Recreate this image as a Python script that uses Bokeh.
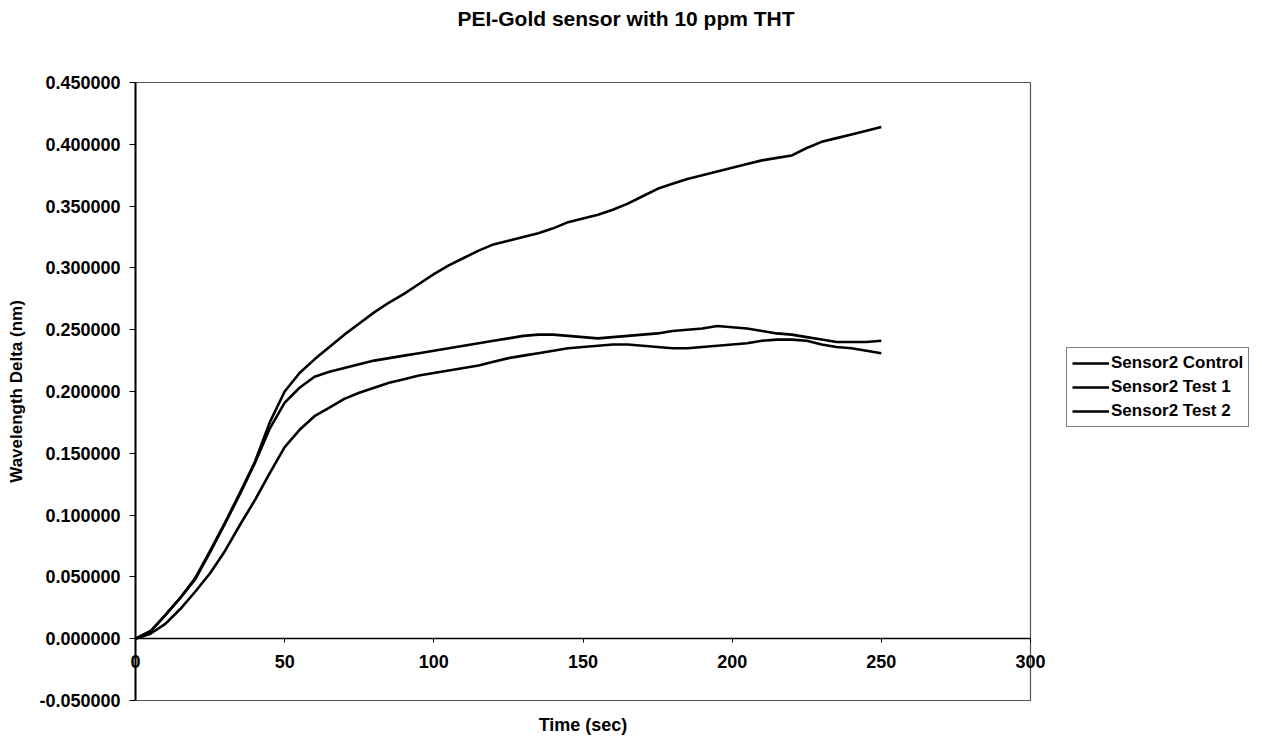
from bokeh.plotting import figure
from bokeh.models import (LinearAxis, FixedTicker, NumeralTickFormatter, Legend,
                          LegendItem, Range1d, Label)
from bokeh.embed import file_html
from bokeh.resources import INLINE

# ---------------- data ----------------
time_s = [0, 5, 10, 15, 20, 25, 30, 35, 40, 45, 50, 55, 60, 65, 70, 75, 80, 85, 90, 95,
          100, 105, 110, 115, 120, 125, 130, 135, 140, 145, 150, 155, 160, 165, 170, 175,
          180, 185, 190, 195, 200, 205, 210, 215, 220, 225, 230, 235, 240, 245, 250]

sensor2_control = [0.000, 0.006, 0.019, 0.033, 0.049, 0.071, 0.094, 0.118, 0.143, 0.175,
                   0.200, 0.215, 0.226, 0.236, 0.246, 0.255, 0.264, 0.272, 0.279, 0.287,
                   0.295, 0.302, 0.308, 0.314, 0.319, 0.322, 0.325, 0.328, 0.332, 0.337,
                   0.340, 0.343, 0.347, 0.352, 0.358, 0.364, 0.368, 0.372, 0.375, 0.378,
                   0.381, 0.384, 0.387, 0.389, 0.391, 0.397, 0.402, 0.405, 0.408, 0.411,
                   0.414]

sensor2_test1 = [0.000, 0.006, 0.019, 0.033, 0.048, 0.070, 0.093, 0.117, 0.142, 0.170,
                 0.191, 0.203, 0.212, 0.216, 0.219, 0.222, 0.225, 0.227, 0.229, 0.231,
                 0.233, 0.235, 0.237, 0.239, 0.241, 0.243, 0.245, 0.246, 0.246, 0.245,
                 0.244, 0.243, 0.244, 0.245, 0.246, 0.247, 0.249, 0.250, 0.251, 0.253,
                 0.252, 0.251, 0.249, 0.247, 0.246, 0.244, 0.242, 0.240, 0.240, 0.240,
                 0.241]

sensor2_test2 = [0.000, 0.004, 0.012, 0.024, 0.038, 0.053, 0.071, 0.092, 0.112, 0.134,
                 0.155, 0.169, 0.180, 0.187, 0.194, 0.199, 0.203, 0.207, 0.210, 0.213,
                 0.215, 0.217, 0.219, 0.221, 0.224, 0.227, 0.229, 0.231, 0.233, 0.235,
                 0.236, 0.237, 0.238, 0.238, 0.237, 0.236, 0.235, 0.235, 0.236, 0.237,
                 0.238, 0.239, 0.241, 0.242, 0.242, 0.241, 0.238, 0.236, 0.235, 0.233,
                 0.231]

series_names = ["Sensor2 Control", "Sensor2 Test 1", "Sensor2 Test 2"]
x_ticks = [0, 50, 100, 150, 200, 250, 300]
y_ticks = [-0.05, 0.0, 0.05, 0.10, 0.15, 0.20, 0.25, 0.30, 0.35, 0.40, 0.45]
x_limits = [0, 300]
y_limits = [-0.05, 0.45]

title_text = "PEI-Gold sensor with 10 ppm THT"
x_title = "Time (sec)"
y_title = "Wavelength Delta (nm)"

FONT = "Liberation Sans"

# ---------------- layout (pixels) ----------------
W, H = 1262, 736
PLOT_L, PLOT_R, PLOT_T, PLOT_B = 135, 1030, 82, 700   # plot-area box on the canvas
xs = (PLOT_R - PLOT_L) / (x_limits[1] - x_limits[0])
ys = (PLOT_B - PLOT_T) / (y_limits[1] - y_limits[0])
x_range = Range1d(x_limits[0] - PLOT_L / xs, x_limits[1] + (W - PLOT_R) / xs)
y_range = Range1d(y_limits[0] - (H - PLOT_B) / ys, y_limits[1] + PLOT_T / ys)

p = figure(width=W, height=H, output_backend="svg", toolbar_location=None,
           x_range=x_range, y_range=y_range,
           x_axis_location=None, y_axis_location=None,
           min_border=0, min_border_left=0, min_border_right=0,
           min_border_top=0, min_border_bottom=0)

p.background_fill_color = "white"
p.border_fill_color = "white"
p.outline_line_color = None
p.xgrid.visible = False
p.ygrid.visible = False

# plot-area box
p.quad(left=[x_limits[0]], right=[x_limits[1]], bottom=[y_limits[0]], top=[y_limits[1]],
       fill_color=None, line_color="#555555", line_width=1.2)

# y axis (at x = 0)
ya = LinearAxis(fixed_location=x_limits[0], bounds=(y_limits[0], y_limits[1]),
                ticker=FixedTicker(ticks=y_ticks),
                formatter=NumeralTickFormatter(format="0.000000"))
ya.major_label_text_font = FONT
ya.major_label_text_font_size = "18px"
ya.major_label_text_font_style = "bold"
ya.major_label_text_color = "black"
ya.major_tick_out = 6
ya.major_tick_in = 0
ya.minor_tick_line_color = None
ya.major_tick_line_color = "black"
ya.axis_line_color = "black"
ya.axis_line_width = 2
ya.major_label_standoff = 9
ya.axis_label = y_title
ya.axis_label_text_font = FONT
ya.axis_label_text_font_size = "17px"
ya.axis_label_text_font_style = "bold"
ya.axis_label_text_color = "black"
ya.axis_label_standoff = 10
p.add_layout(ya, "left")

# x axis crossing at y = 0
xa = LinearAxis(fixed_location=0, bounds=(x_limits[0], x_limits[1]),
                ticker=FixedTicker(ticks=x_ticks))
xa.major_label_text_font = FONT
xa.major_label_text_font_size = "18px"
xa.major_label_text_font_style = "bold"
xa.major_label_text_color = "black"
xa.major_tick_out = 4
xa.major_tick_in = 0
xa.minor_tick_line_color = None
xa.major_tick_line_color = "black"
xa.axis_line_color = "black"
xa.axis_line_width = 1.5
xa.major_label_standoff = 12
p.add_layout(xa, "below")

# x axis title under the plot-area box
xl = LinearAxis(fixed_location=y_limits[0], bounds=(x_limits[0], x_limits[1]),
                ticker=FixedTicker(ticks=[]), axis_line_color=None,
                major_tick_line_color=None, minor_tick_line_color=None,
                major_label_text_font_size="0px", axis_label=x_title,
                axis_label_text_font=FONT, axis_label_text_font_size="18px",
                axis_label_text_font_style="bold", axis_label_text_color="black",
                axis_label_standoff=14)
p.add_layout(xl, "below")

# title
p.add_layout(Label(x=(x_limits[0] + x_limits[1]) / 2 + 43 / xs, y=y_limits[1] + 64 / ys,
                   text=title_text, text_align="center", text_baseline="middle",
                   text_font=FONT, text_font_size="21px", text_font_style="bold",
                   text_color="black"))

# lines
renderers = []
for vals in (sensor2_control, sensor2_test1, sensor2_test2):
    r = p.line(time_s, vals, line_color="black", line_width=2.6)
    renderers.append(r)

legend = Legend(items=[LegendItem(label=n, renderers=[r]) for n, r in zip(series_names, renderers)],
                location=(1066, H - 427), orientation="vertical",
                label_text_font=FONT, label_text_font_size="17px",
                label_text_font_style="bold", label_text_color="black",
                label_standoff=2, glyph_width=37, glyph_height=20, label_height=20,
                spacing=4, padding=5, margin=0,
                border_line_color="black", border_line_width=1.5,
                background_fill_color="white", background_fill_alpha=1.0)
p.add_layout(legend, "center")

open("out.html", "w").write(file_html(p, INLINE))
